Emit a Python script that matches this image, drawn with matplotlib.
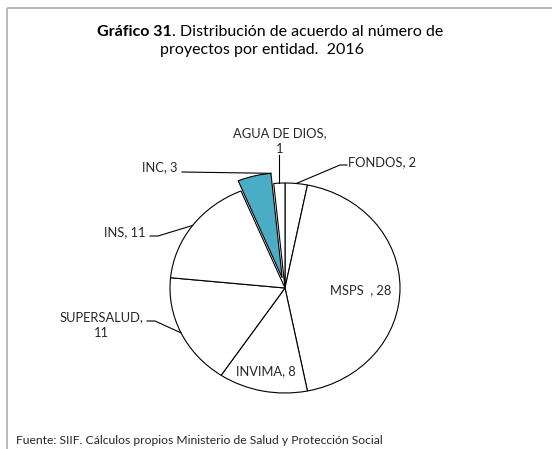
import numpy as np
import matplotlib
matplotlib.use('Agg')
import matplotlib.pyplot as plt
from matplotlib.patches import Rectangle

plt.rcParams['font.family'] = ['Lato', 'DejaVu Sans']

#data (clockwise from 12 o'clock)
entidades = ['FONDOS', 'MSPS', 'INVIMA', 'SUPERSALUD', 'INS', 'INC', 'AGUA DE DIOS']
proyectos = [2, 28, 8, 11, 11, 3, 1]
etiquetas = ['FONDOS, 2', 'MSPS  , 28', 'INVIMA, 8', 'SUPERSALUD,\n11',
             'INS, 11', 'INC, 3', 'AGUA DE DIOS,\n1']

W, H = 552, 449
fig = plt.figure(figsize=(W / 100, H / 100), dpi=100)

#pie axes (slightly elliptical like the original)
cx, cy, rx, ry = 285, 288, 115, 105
ax = fig.add_axes([(cx - rx) / W, (H - cy - ry) / H, 2 * rx / W, 2 * ry / H])
colores = ['white'] * len(proyectos)
colores[entidades.index('INC')] = '#4bacc6'
explode = [0.1 if e == 'INC' else 0 for e in entidades]
wedges, _ = ax.pie(proyectos, startangle=90, counterclock=False, colors=colores,
                   explode=explode,
                   wedgeprops=dict(edgecolor='black', linewidth=0.8))
for w in wedges:
    w.set_clip_on(False)
ax.set_aspect('auto')
ax.set_xlim(-1, 1)
ax.set_ylim(-1, 1)

#overlay axes in pixel coords for text and leader lines
ov = fig.add_axes([0, 0, 1, 1])
ov.set_xlim(0, W)
ov.set_ylim(H, 0)
ov.axis('off')
ov.set_zorder(3)

#gray chart frame
ov.add_patch(Rectangle((7, 8), W, H, fill=False, edgecolor='#b4b4b4', linewidth=1.3))


def edge_point(w, ang):
    #point on the outer edge of a wedge, in pixel coords
    x = w.center[0] + w.r * np.cos(np.radians(ang))
    y = w.center[1] + w.r * np.sin(np.radians(ang))
    disp = ax.transData.transform((x, y))
    return ov.transData.inverted().transform(disp)


#label layout: text position, alignment, leader elbow (x0, x1, y)
layout = {
    'FONDOS': ((348, 162), 'left', (347, 340, 165)),
    'MSPS': ((361, 290), 'center', None),
    'INVIMA': ((266, 371), 'center', None),
    'SUPERSALUD': ((101, 325), 'center', (147, 155, 321)),
    'INS': ((146, 232), 'right', (150, 158, 236)),
    'INC': ((177, 167), 'right', (182, 182, 172)),
    'AGUA DE DIOS': ((280, 141), 'center', (279, 279, 155)),
}

for w, ent, txt in zip(wedges, entidades, etiquetas):
    (tx, ty), ha, elbow = layout[ent]
    ov.text(tx, ty, txt, ha=ha, va='center', fontsize=9.3, color='#262626',
            linespacing=1.35)
    if elbow is None:
        continue
    if ent == 'INC':
        px, py = edge_point(w, w.theta1)
    else:
        px, py = edge_point(w, (w.theta1 + w.theta2) / 2)
    x0, x1, ey = elbow
    if ent == 'AGUA DE DIOS':
        px = x0
    ov.plot([x0, x1, px], [ey, ey, py], color='black', linewidth=0.8)

#title: bold part followed by regular part
t1 = ov.text(97, 32, 'Gráfico 31', ha='left', va='center', fontsize=11.5,
             fontweight='bold', color='black')
ov.annotate('. Distribución de acuerdo al número de', xy=(1, 0.5),
            xycoords=t1, ha='left', va='center', fontsize=11.5)
ov.text(262, 50, 'proyectos por entidad.  2016', ha='center', va='center',
        fontsize=11.5)

#source
ov.text(16, 440, 'Fuente: SIIF. Cálculos propios Ministerio de Salud y Protección Social',
        ha='left', va='center', fontsize=8.7, color='#262626')

fig.savefig('out.png', dpi=100)
